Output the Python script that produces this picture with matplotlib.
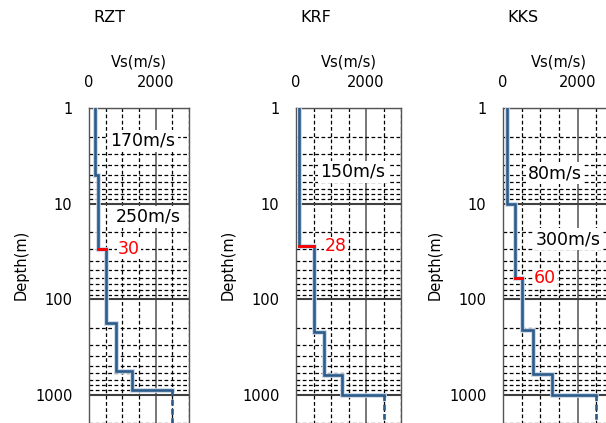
import matplotlib.pyplot as plt
import matplotlib.patheffects as pe
import numpy as np
from matplotlib.ticker import LogLocator, MultipleLocator, NullFormatter

# layer tops (m) and shear-wave velocities (m/s) for each station
stations = ["RZT", "KRF", "KKS"]
tops = [
    [1, 5, 30, 180, 570, 890],
    [1, 28, 220, 630, 1000],
    [1, 10, 60, 210, 610, 1000],
]
vs = [
    [190, 270, 500, 800, 1300, 2500],
    [80, 500, 800, 1300, 2500],
    [100, 320, 500, 800, 1300, 2500],
]
vs30_depth = [30, 28, 60]
vs30_label = ["30", "28", "60"]

# velocity labels: text, Vs position, depth position
vel_labels = [
    [("170m/s", 1620, 2.2), ("250m/s", 1770, 13.8)],
    [("150m/s", 1630, 4.65)],
    [("80m/s", 1400, 4.8), ("300m/s", 1735, 23.6)],
]
red_pos = [(1200, 30), (1140, 28), (1130, 61)]

W, H = 606, 423
ax_left = [89, 296, 503]
ax_width = [100, 105, 112]
ax_top = 108
ax_height = 382  # 1 m .. 10^4 m

blue = "#2e5c8a"
dash = (0, (3, 2))

fig = plt.figure(figsize=(W / 100, H / 100), dpi=100)

for i, name in enumerate(stations):
    ax = fig.add_axes([ax_left[i] / W, 1 - (ax_top + ax_height) / H,
                       ax_width[i] / W, ax_height / H])
    ax.set_yscale("log")
    ax.set_ylim(1e4, 1)
    ax.set_xlim(0, 3000)

    ax.xaxis.tick_top()
    ax.set_xticks([0, 2000])
    ax.xaxis.set_minor_locator(MultipleLocator(500))
    ax.set_yticks([1, 10, 100, 1000])
    ax.set_yticklabels(["1", "10", "100", "1000"])
    ax.yaxis.set_minor_locator(LogLocator(base=10, subs=np.arange(2, 10), numticks=20))
    ax.yaxis.set_minor_formatter(NullFormatter())
    ax.tick_params(which="both", length=0)
    ax.tick_params(axis="x", pad=13, labelsize=10.5)
    ax.tick_params(axis="y", pad=12, labelsize=10.5)

    ax.grid(axis="x", which="major", color="#606060", lw=1.2, ls="-")
    ax.grid(axis="x", which="minor", color="black", lw=0.9, ls=dash)
    ax.grid(axis="y", which="major", color="#404040", lw=1.5, ls="-")
    ax.grid(axis="y", which="minor", color="black", lw=0.9, ls=dash)
    ax.set_axisbelow(True)
    for s in ax.spines.values():
        s.set_color("#555555")
        s.set_linewidth(1.0)

    # step profile
    t = np.array(tops[i], dtype=float)
    v = np.array(vs[i], dtype=float)
    xs, ys = [], []
    for k in range(len(v) - 1):
        xs += [v[k], v[k]]
        ys += [t[k], t[k + 1]]
    xs.append(v[-1])
    ys.append(t[-1])
    halo = [pe.Stroke(linewidth=3.4, foreground="#c9d7e6"), pe.Normal()]
    ax.plot(xs, ys, color=blue, lw=1.9, path_effects=halo, zorder=4,
            solid_joinstyle="miter")
    ax.plot([v[-1], v[-1]], [t[-1], 1e4], color=blue, lw=1.9,
            ls=(0, (2.2, 1.3)), zorder=5)

    # Vs30 step in red
    k = list(tops[i]).index(vs30_depth[i])
    ax.plot([v[k - 1], v[k]], [vs30_depth[i], vs30_depth[i]], color="red",
            lw=2.0, zorder=5)
    rx, ry = red_pos[i]
    ax.text(rx, ry, vs30_label[i], color="red", fontsize=12.5, ha="center",
            va="center", zorder=6,
            bbox=dict(facecolor="white", edgecolor="none", pad=0.5))

    for txt, lx, ly in vel_labels[i]:
        ax.text(lx, ly, txt, fontsize=12.5, ha="center", va="center", zorder=6,
                bbox=dict(facecolor="white", edgecolor="none", pad=1.5))

    cx = (ax_left[i] + ax_width[i] / 2) / W
    fig.text(cx, 1 - 62 / H, "Vs(m/s)", fontsize=10.5, ha="center", va="center")
    fig.text((ax_left[i] + 20) / W, 1 - 18 / H, name, fontsize=11.5,
             ha="center", va="center")
    fig.text((ax_left[i] - 68) / W, 1 - 265 / H, "Depth(m)", fontsize=10.5,
             rotation=90, ha="center", va="center")

fig.savefig("out.png", dpi=100)
